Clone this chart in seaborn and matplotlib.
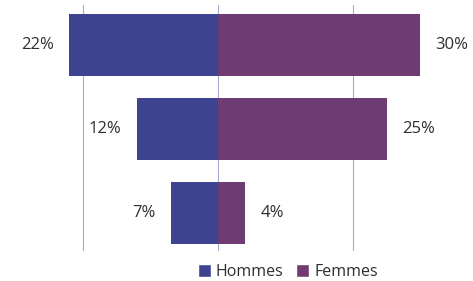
import numpy as np
import pandas as pd
import matplotlib
matplotlib.use("Agg")
import matplotlib.pyplot as plt
import seaborn as sns
from matplotlib.patches import Patch

groups = ["Groupe 1", "Groupe 2", "Groupe 3"]
hommes = [22, 12, 7]
femmes = [30, 25, 4]

col_h = "#3d4390"
col_f = "#6e3b73"

sns.set_theme(style="white")
plt.rcParams["font.family"] = ["Open Sans", "DejaVu Sans"]

df = pd.DataFrame({"groupe": groups, "Hommes": hommes, "Femmes": femmes})
df["Hommes_neg"] = -df["Hommes"]

fig = plt.figure(figsize=(4.73, 2.81), dpi=100)
ax = fig.add_axes([0, 26 / 281, 1, 255 / 281])

sns.barplot(data=df, x="Hommes_neg", y="groupe", orient="h", color=col_h,
            width=0.74, saturation=1, linewidth=0, ax=ax, zorder=2)
sns.barplot(data=df, x="Femmes", y="groupe", orient="h", color=col_f,
            width=0.74, saturation=1, linewidth=0, ax=ax, zorder=2)

# gridlines (light, behind the bars)
for g in [-20, 0, 20]:
    ax.axvline(g, color="#a9abd2", lw=0.8, zorder=1, ymin=0.02, ymax=0.98)

for i, (h, f) in enumerate(zip(hommes, femmes)):
    ax.annotate(f"{h}%", xy=(-h, i), xytext=(-11, 0), textcoords="offset points",
                ha="right", va="center", fontsize=12, color="#2e2e2e")
    ax.annotate(f"{f}%", xy=(f, i), xytext=(11, 0), textcoords="offset points",
                ha="left", va="center", fontsize=12, color="#2e2e2e")

ax.set_xlim(-32.3, 37.8)
ax.set_ylim(2.5, -0.536)
ax.set_xlabel("")
ax.set_ylabel("")
ax.set_xticks([])
ax.set_yticks([])
sns.despine(ax=ax, left=True, bottom=True)

handles = [Patch(facecolor=col_h, label="Hommes"), Patch(facecolor=col_f, label="Femmes")]
fig.legend(handles=handles, loc="center", bbox_to_anchor=(288 / 473, 1 - 272 / 281),
           ncol=2, frameon=False, fontsize=11.5, handlelength=0.8, handleheight=0.8,
           handletextpad=0.3, columnspacing=0.8, labelcolor="#2e2e2e")

fig.savefig("out.png", dpi=100)
